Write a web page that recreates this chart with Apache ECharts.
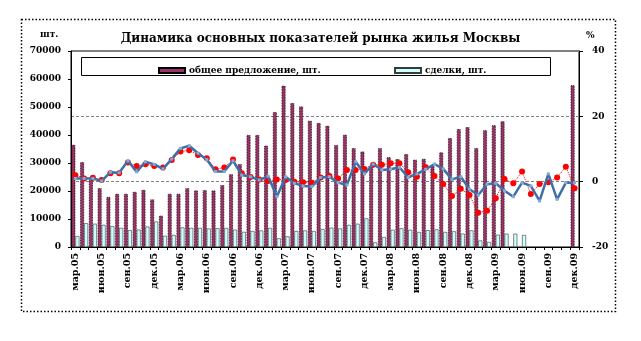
<!DOCTYPE html>
<html><head><meta charset="utf-8">
<script src="https://cdn.jsdelivr.net/npm/echarts@6/dist/echarts.min.js"></script>
<style>html,body{margin:0;padding:0;background:#fff}#c{width:641px;height:341px}</style>
</head><body><div id="c"></div>
<script>
const categories = [
 'мар.05','апр.05','май.05','июн.05','июл.05','авг.05','сен.05','окт.05','ноя.05','дек.05',
 'янв.06','фев.06','мар.06','апр.06','май.06','июн.06','июл.06','авг.06','сен.06','окт.06','ноя.06','дек.06',
 'янв.07','фев.07','мар.07','апр.07','май.07','июн.07','июл.07','авг.07','сен.07','окт.07','ноя.07','дек.07',
 'янв.08','фев.08','мар.08','апр.08','май.08','июн.08','июл.08','авг.08','сен.08','окт.08','ноя.08','дек.08',
 'янв.09','фев.09','мар.09','апр.09','май.09','июн.09','июл.09','авг.09','сен.09','окт.09','ноя.09','дек.09'
];
const supply = [36500,30300,24000,21000,17900,19000,19000,19700,20400,17000,
 11200,19000,19000,21000,20200,20300,20200,22100,26000,29600,40000,40000,
 36200,48200,57600,51400,50200,45100,44300,43300,36400,40100,35300,34100,
 29000,35300,32100,31400,33200,31200,31500,29000,33800,38900,42100,42800,
 35300,41700,43500,44900,null,null,null,null,null,null,null,57800];
const deals = [3900,8500,8300,7900,7400,6800,6000,6200,7300,9100,
 4000,4300,7000,6800,6800,6600,6700,6800,6200,5400,5700,5900,
 6800,3100,3800,5700,5900,5700,6400,6900,6600,7900,8300,10200,
 1650,3550,6150,6700,6150,5350,6000,6300,5350,5600,4750,5950,
 2350,1800,4400,4750,4750,4300,null,null,null,null,null,null];
const redPct = [2.0,1.0,1.2,0.5,2.6,2.6,5.9,4.8,5.3,4.8,
 4.3,6.6,9.2,9.6,8.2,7.2,3.8,4.3,6.8,2.6,1.4,0.7,
 0.2,0.7,0.5,0.0,-0.2,-0.3,1.3,1.7,1.0,3.6,3.6,3.9,
 5.2,5.2,5.6,5.6,2.9,1.5,4.4,1.7,-0.7,-4.4,-2.2,-4.1,
 -9.5,-8.9,-5.1,0.8,-0.5,3.1,-3.8,-0.7,-0.2,1.3,4.6,-2.0];
const bluePct = [1.0,1.0,1.0,0.2,2.9,2.7,6.4,3.0,6.1,5.3,
 3.9,6.9,10.2,11.0,8.7,6.8,3.1,3.1,6.4,2.0,1.5,0.5,
 1.7,-4.6,1.5,-0.5,-1.3,-1.5,1.3,1.5,-0.3,-1.0,6.1,2.4,
 5.4,3.6,3.8,4.4,1.3,2.4,3.8,5.4,3.9,0.7,1.5,-2.3,
 -4.1,-0.8,-0.5,-2.8,-4.6,-0.3,-1.3,-5.9,2.4,-5.4,-0.3,-0.3];
const seriesNames = ['общее предложение, шт.','сделки, шт.'];
const titleText = 'Динамика основных показателей рынка жилья Москвы';

const F = 'DejaVu Serif';
const chart = echarts.init(document.getElementById('c'), null, {renderer:'canvas'});
chart.setOption({
  animation:false,
  backgroundColor:'#fff',
  title:{text:titleText,left:'center',top:28,textStyle:{fontFamily:F,fontWeight:'bold',fontSize:12,color:'#000'}},
  legend:[
    {data:[{name:seriesNames[0],icon:'rect'}],left:153,top:61,itemWidth:26,itemHeight:5,itemGap:4,z:10,
     textStyle:{fontFamily:F,fontWeight:'bold',fontSize:9,color:'#000',padding:[0,0,0,-1]}},
    {data:[{name:seriesNames[1],icon:'rect'}],left:389,top:61,itemWidth:26,itemHeight:5,itemGap:4,z:10,
     textStyle:{fontFamily:F,fontWeight:'bold',fontSize:9,color:'#000',padding:[0,0,0,-1]}}
  ],
  graphic:[
    {type:'rect',shape:{x:21.5,y:19.5,width:594,height:292},style:{fill:null,stroke:'#000',lineWidth:1.5,lineDash:[1.5,2]},z:0},
    {type:'rect',shape:{x:81.5,y:57.5,width:469,height:18},style:{fill:'#fff',stroke:'#000',lineWidth:1},z:5},
    {type:'text',left:40,top:30,style:{text:'шт.',font:'bold 9px "DejaVu Serif"',fill:'#000'},z:5},
    {type:'text',left:586,top:31,style:{text:'%',font:'bold 9px "DejaVu Serif"',fill:'#000'},z:5}
  ],
  grid:{left:71,right:62,top:51,bottom:94,show:true,borderColor:'#000',borderWidth:1,backgroundColor:'transparent'},
  xAxis:{type:'category',data:categories,boundaryGap:true,
    axisLine:{lineStyle:{color:'#000',width:1}},
    axisTick:{show:true,interval:0,inside:false,length:3,lineStyle:{color:'#000'}},
    axisLabel:{interval:2,rotate:90,margin:6,fontFamily:F,fontWeight:'bold',fontSize:9.5,color:'#000'}},
  yAxis:[
    {type:'value',min:0,max:70000,interval:10000,
     axisLine:{show:true,lineStyle:{color:'#000'}},
     axisTick:{show:true,length:3,lineStyle:{color:'#000'}},
     axisLabel:{margin:10,fontFamily:F,fontWeight:'bold',fontSize:9,color:'#000',formatter:v=>String(v)},
     splitLine:{show:false}},
    {type:'value',min:-20,max:40,interval:20,position:'right',
     axisLine:{show:true,lineStyle:{color:'#000'}},
     axisTick:{show:true,length:4,lineStyle:{color:'#000'}},
     axisLabel:{margin:13,fontFamily:F,fontWeight:'bold',fontSize:9,color:'#000',formatter:v=>String(v)},
     splitLine:{show:true,lineStyle:{color:'#808080',type:[3,2],width:1}}}
  ],
  series:[
    {name:seriesNames[0],type:'bar',data:supply,barWidth:4,barGap:'0%',
     itemStyle:{color:'#993366',borderColor:'#000',borderWidth:0.8,borderType:'dotted'}},
    {name:seriesNames[1],type:'bar',data:deals,barWidth:4,barGap:'0%',
     itemStyle:{color:'#CCFFFF',borderColor:'#3a3a3a',borderWidth:0.6}},
    {name:'red',type:'line',yAxisIndex:1,data:redPct,symbol:'circle',symbolSize:6,showAllSymbol:true,
     lineStyle:{color:'#FF0000',width:1,type:'dotted'},itemStyle:{color:'#FF0000'},z:3},
    {name:'blue',type:'line',yAxisIndex:1,data:bluePct,symbol:'rect',symbolSize:3,showAllSymbol:true,
     lineStyle:{color:'#3F6FA8',width:2.5},itemStyle:{color:'#86A9D4',borderWidth:0},z:4}
  ]
});
</script></body></html>
